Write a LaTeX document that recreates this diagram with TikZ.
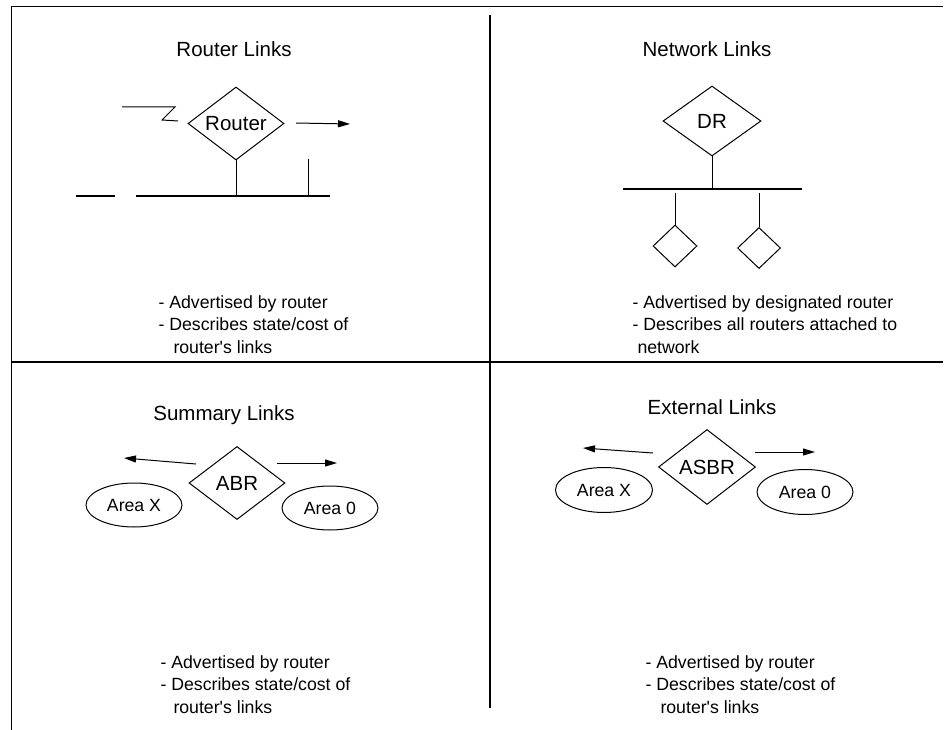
\documentclass[tikz,border=0pt]{standalone}
\usepackage{fontspec}
\setmainfont{Liberation Sans}
\usetikzlibrary{shapes.geometric,arrows.meta,calc}
\begin{document}
\begin{tikzpicture}[x=1pt,y=-1pt,line width=1pt,
  dia/.style={draw,diamond,inner sep=0pt,shape aspect=1.3,font=\fontsize{20.5}{24}\selectfont},
  sdia/.style={draw,diamond,inner sep=0pt},
  oval/.style={draw,ellipse,inner sep=0pt,minimum width=96pt,minimum height=44pt,font=\fontsize{17.7}{21}\selectfont},
  ttl/.style={anchor=base,inner sep=0pt,font=\fontsize{20.5}{24}\selectfont},
  body/.style={anchor=base west,align=left,inner sep=0pt,font=\fontsize{17.7}{22.7}\selectfont},
  arr/.style={-{Triangle[length=12pt,width=7pt]}},
  rule/.style={line width=1.2pt}]
\useasboundingbox (0,0) rectangle (947,730);
% frame and dividers
\coordinate (f1) at (11,730);
\coordinate (f2) at (11,7);
\coordinate (f3) at (943,7);
\draw (f1) -- (f2) -- (f3);
\coordinate (h1) at (11,362);
\coordinate (h2) at (943,362);
\draw[rule] (h1) -- (h2);
\coordinate (v1) at (490,15);
\coordinate (v2) at (490,708);
\draw[rule] (v1) -- (v2);

% ---------- Router Links ----------
\node[ttl] (t1) at (234,57) {Router Links};
\node[dia,minimum width=96pt,minimum height=73pt] (R) at (236,123.5) {Router};
\coordinate (z1) at (122,107);
\draw (z1) -- (175,107) -- (162,120) -- (178,121);
\coordinate (ra1) at (296,123);
\coordinate (ra2) at (350,124);
\draw[arr] (ra1) -- (ra2);
\coordinate (b1) at (136,196);
\coordinate (b2) at (330,196);
\coordinate (b3) at (76,196);
\coordinate (b4) at (115,196);
\draw[rule] (b3) -- (b4);
\draw[rule] (b1) -- (b2);
\draw (R.south) -- (R.south |- b1);
\coordinate (rv) at (308,159);
\draw (rv) -- (rv |- b1);
\node[body] (d1) at (158,353.4) {- Advertised by router\\- Describes state/cost of\\\hspace*{15pt}router\textquotesingle s links};

% ---------- Network Links ----------
\node[ttl] (t2) at (707,57) {Network Links};
\node[dia,minimum width=98pt,minimum height=70pt] (DR) at (712,121) {DR};
\coordinate (n1) at (623,189);
\coordinate (n2) at (802,189);
\draw[rule] (n1) -- (n2);
\draw (DR.south) -- (DR.south |- n1);
\node[sdia,minimum width=44pt,minimum height=42pt] (s1) at (675,246) {};
\node[sdia,minimum width=43pt,minimum height=41pt] (s2) at (759,248) {};
\draw ($(s1.north |- n1)+(0,4)$) -- (s1.north);
\draw ($(s2.north |- n1)+(0,4)$) -- (s2.north);
\node[body] (d2) at (632,353.4) {- Advertised by designated router\\- Describes all routers attached to\\\hspace*{5pt}network};

% ---------- Summary Links ----------
\node[ttl] (t3) at (224,420) {Summary Links};
\node[dia,minimum width=96pt,minimum height=73pt] (ABR) at (237,483) {ABR};
\node[oval] (ax1) at (134,505) {Area X};
\node[oval] (a01) at (330,508) {Area 0};
\coordinate (sa1) at (196,464);
\coordinate (sa2) at (124,458);
\draw[arr] (sa1) -- (sa2);
\coordinate (sa3) at (277,463);
\coordinate (sa4) at (337,463);
\draw[arr] (sa3) -- (sa4);
\node[body] (d3) at (160,713.4) {- Advertised by router\\- Describes state/cost of\\\hspace*{13pt}router\textquotesingle s links};

% ---------- External Links ----------
\node[ttl] (t4) at (712,414) {External Links};
\node[dia,minimum width=97pt,minimum height=75pt] (ASBR) at (707,467) {ASBR};
\node[oval,minimum height=45pt,minimum width=97pt] (ax2) at (604,490) {Area X};
\node[oval,minimum height=45pt] (a02) at (805,492) {Area 0};
\coordinate (ea1) at (653,453);
\coordinate (ea2) at (583,448);
\draw[arr] (ea1) -- (ea2);
\coordinate (ea3) at (755,452);
\coordinate (ea4) at (815,452);
\draw[arr] (ea3) -- (ea4);
\node[body] (d4) at (645,713.4) {- Advertised by router\\- Describes state/cost of\\\hspace*{15pt}router\textquotesingle s links};
\end{tikzpicture}
\end{document}
